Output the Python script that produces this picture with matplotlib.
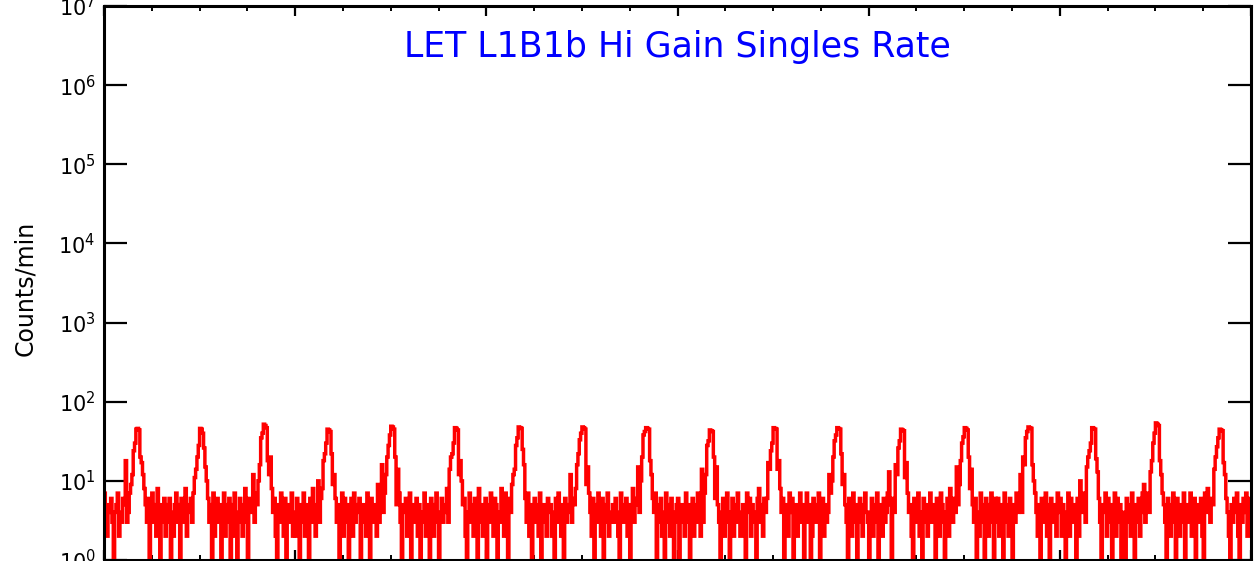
import numpy as np
import matplotlib
matplotlib.use("Agg")
import matplotlib.pyplot as plt
from matplotlib.ticker import FixedLocator, MultipleLocator, NullLocator

# ---- data (counts per minute, 10-minute samples over 6 days) ----
sample_minutes = 10
rates_rows = [
    [7,3,2,5,4,6,3,0,4,5,7,2,4,3,6,5,18,3,4,7,9,12,24,30,45,46,44,20,17,12,8,5,3,6,0,4,7,3,5,2,8,4,0,5,3,6,2,5],
    [3,6,0,4,2,5,7,3,5,0,6,4,3,8,2,5,4,6,3,7,11,14,20,28,46,45,40,26,15,10,6,3,5,0,7,2,4,6,3,5,0,4,7,2,5,3,6,0],
    [5,2,7,4,0,3,6,5,2,4,8,3,0,6,4,5,12,3,7,5,10,16,35,40,52,50,47,18,12,20,8,4,6,2,0,5,3,7,4,2,6,0,5,3,4,7,2,4],
    [2,6,4,0,5,3,7,2,5,4,0,6,3,8,5,2,4,10,3,6,8,18,22,30,45,44,42,22,9,12,6,3,5,0,4,7,2,6,3,5,0,4,6,2,7,3,5,4],
    [6,0,4,5,3,2,7,4,0,6,3,5,4,2,9,3,6,16,4,7,12,20,28,38,49,48,45,20,5,14,7,3,0,5,4,6,2,3,7,0,4,5,3,6,2,5,0,3],
    [4,7,2,5,3,0,6,4,2,5,7,3,0,4,6,3,5,4,8,3,14,20,22,30,47,46,44,12,18,10,5,6,2,0,4,7,3,5,2,6,4,0,8,3,5,2,4,6],
    [0,5,3,7,4,2,6,5,0,4,3,8,5,2,7,3,0,6,4,9,12,14,28,35,48,47,46,25,16,6,3,7,2,5,0,4,6,3,5,2,7,0,4,5,3,2,6,4],
    [5,2,4,0,6,3,7,4,2,5,0,6,3,5,4,12,3,6,5,8,16,22,33,40,48,47,45,9,15,7,4,2,6,0,5,3,7,4,2,6,0,3,5,7,2,4,3,5],
    [3,6,4,2,0,7,5,3,4,6,2,5,0,4,8,3,6,5,15,4,10,20,38,42,47,46,45,18,12,6,4,7,0,3,5,6,2,4,0,7,3,5,2,6,4,0,3,5],
    [6,0,3,5,4,2,7,3,5,0,4,6,2,5,3,7,4,2,14,3,7,12,28,32,44,43,42,20,6,15,5,3,0,4,6,2,5,7,3,0,4,6,2,5,3,7,4,2],
    [2,5,3,0,7,4,6,2,5,3,4,0,6,8,3,5,2,6,4,6,17,14,24,30,47,46,45,14,18,8,4,6,0,3,5,2,7,4,6,0,3,5,2,4,7,3,5,0],
    [4,7,3,5,0,2,6,4,3,5,7,0,4,6,2,5,3,4,12,7,10,20,32,38,47,46,45,22,9,12,5,3,0,6,4,2,7,3,5,0,4,6,3,2,5,7,4,3],
    [0,4,6,2,5,3,7,0,4,5,2,6,3,4,7,13,5,0,6,4,16,12,26,32,45,44,43,11,17,7,4,5,2,0,6,3,5,7,2,4,0,6,3,5,2,4,7,3],
    [5,3,0,6,4,2,7,5,3,0,4,6,2,8,5,3,6,4,15,5,9,18,30,36,47,46,44,20,8,14,5,3,6,0,4,2,7,5,3,0,6,4,2,5,7,3,0,6],
    [3,6,2,5,4,0,7,3,5,2,6,4,0,5,3,7,4,6,12,4,20,16,35,42,48,47,46,16,10,7,4,2,5,0,6,3,4,7,2,5,0,6,3,4,5,2,7,4],
    [6,2,5,3,0,4,7,2,6,4,3,5,0,6,2,10,4,7,5,3,15,20,24,30,47,46,45,19,13,6,3,0,5,4,7,2,6,3,5,0,4,7,2,6,3,5,0,3],
    [4,0,6,3,5,2,7,4,0,5,3,6,2,4,7,9,3,5,7,4,13,18,30,40,54,52,50,18,12,7,5,3,0,6,4,2,5,7,3,0,6,4,2,5,3,7,0,4],
    [5,3,7,2,4,6,0,5,3,4,6,2,0,7,4,8,5,3,6,5,14,20,27,35,45,44,43,17,12,6,4,2,0,5,3,6,4,7,2,0,5,3,6,4,7,2,5,6],
]
counts = np.array([v for row in rates_rows for v in row], dtype=float)
days = (np.arange(counts.size) + 0.5) * sample_minutes / 1440.0

ytick_values = [1e0, 1e1, 1e2, 1e3, 1e4, 1e5, 1e6, 1e7]
ytick_labels = [r"10$^{%d}$" % e for e in range(8)]
title_text = "LET L1B1b Hi Gain Singles Rate"
ylabel_text = "Counts/min"

# ---- figure ----
plt.rcParams['font.family'] = ['DejaVu Sans']
plt.rcParams['mathtext.fontset'] = 'dejavusans'
W, H, DPI = 1254, 561, 100
fig = plt.figure(figsize=(W / DPI, H / DPI), dpi=DPI)
left, right, top, bottom = 104, 1251, 6, 560
ax = fig.add_axes([left / W, (H - bottom) / H, (right - left) / W, (bottom - top) / H])

plot_vals = np.where(counts > 0, counts, 1e-3)
ax.plot(days, plot_vals, drawstyle='steps-mid', color='#ff0000', lw=2.5,
        solid_joinstyle='miter')

ax.set_yscale('log')
ax.set_ylim(1, 1e7)
ax.set_xlim(0, 6)

ax.yaxis.set_major_locator(FixedLocator(ytick_values))
ax.yaxis.set_minor_locator(NullLocator())
ax.set_yticklabels(ytick_labels)
ax.xaxis.set_major_locator(MultipleLocator(1))
ax.xaxis.set_minor_locator(MultipleLocator(0.25))

ax.tick_params(axis='y', which='major', direction='in', length=16.5, width=1.6,
               left=True, right=True, labelsize=15, pad=6, colors='black')
ax.tick_params(axis='x', which='major', direction='in', length=7, width=1.6,
               top=True, bottom=True, labelbottom=False)
ax.tick_params(axis='x', which='minor', direction='in', length=3.6, width=1.4,
               top=True, bottom=True)

for s in ax.spines.values():
    s.set_linewidth(2.2)
    s.set_color('black')

fig.text(25 / W, 1 - 288 / H, ylabel_text, rotation=90, ha='center', va='center',
         fontsize=17)
ax.text(0.5, 0.926, title_text, transform=ax.transAxes, ha='center', va='center',
        color='#0000ff', fontsize=25)

fig.savefig('out.png', dpi=DPI)
